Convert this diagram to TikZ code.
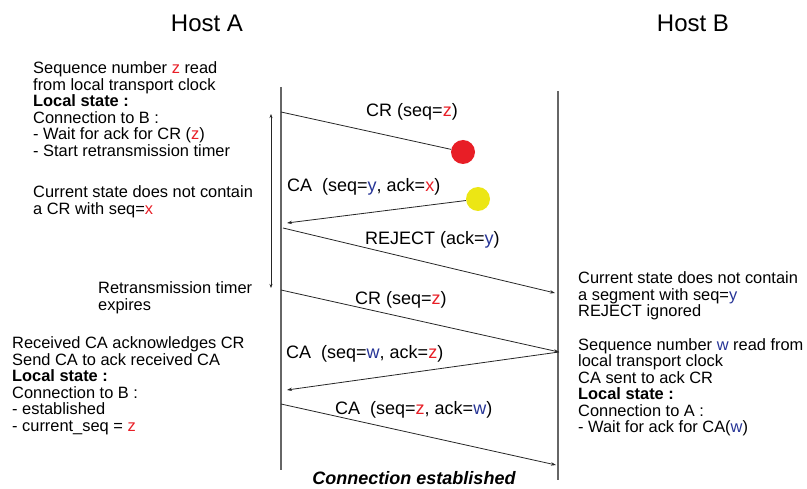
\documentclass[tikz,border=0pt]{standalone}
\usepackage{fontspec}
\setmainfont{Liberation Sans}
\usetikzlibrary{arrows.meta,positioning}
\definecolor{seqred}{RGB}{232,30,38}
\definecolor{seqblue}{RGB}{38,52,150}
\definecolor{dupyellow}{RGB}{236,230,20}
\tikzset{
  hostlbl/.style={font=\fontsize{24}{26}\selectfont, anchor=base, inner sep=0pt},
  timeline/.style={line width=1.3pt, gray!80!black},
  msgln/.style={-{Stealth[length=5pt,width=3.4pt]}, line width=0.8pt, black!85},
  lostln/.style={line width=0.8pt, black!85},
  msglbl/.style={font=\fontsize{18}{20}\selectfont, inner sep=0pt},
  % base of a multi-line note = baseline of its last line
  note/.style={font=\fontsize{16.4}{16.5}\selectfont, align=left, anchor=base west, inner sep=0pt},
  timerln/.style={{Stealth[length=4pt,width=3pt]}-{Stealth[length=4pt,width=3pt]}, line width=0.8pt, black!85},
  segdot/.style={circle, minimum size=24pt, inner sep=0pt},
}
\newcommand{\zr}[1]{\textcolor{seqred}{#1}}
\newcommand{\wb}[1]{\textcolor{seqblue}{#1}}
\begin{document}
\begin{tikzpicture}[x=1pt,y=-1pt]
    \useasboundingbox (0,0) rectangle (807,489);
    % hosts and their time lines
    \node[hostlbl] (hostA) at (207,32) {Host A};
    \node[hostlbl] (hostB) at (693,32) {Host B};
    \coordinate (topA) at (281,87);
    \coordinate (botA) at (281,470);
    \coordinate (topB) at (558,91);
    \coordinate (botB) at (558,480);
    \draw[timeline] (topA) -- (botA);
    \draw[timeline] (topB) -- (botB);
    % end points on the time lines
    \coordinate (a1) at (281,112);
    \coordinate (a2) at (287,223);
    \coordinate (a3) at (283,228);
    \coordinate (a4) at (281,290);
    \coordinate (a5) at (287,390);
    \coordinate (a6) at (281,404);
    \coordinate (b1) at (555,293);
    \coordinate (b2) at (559,352);
    \coordinate (b3) at (556,465);
    \coordinate (t1) at (271,114);
    \coordinate (t2) at (271,288);
    % lost CR and delayed CA
    \node[segdot, fill=seqred] (lost) at (463,152) {};
    \node[segdot, fill=dupyellow] (dup) at (478,199) {};
    \draw[lostln] (a1) -- (lost);
    \draw[msgln] (dup) -- (a2);
    \draw[msgln] (a3) -- (b1);
    \draw[msgln] (a4) -- (b2);
    \draw[msgln] (b2) -- (a5);
    \draw[msgln] (a6) -- (b3);
    % retransmission timer
    \draw[timerln] (t1) -- (t2);
    % segment labels
    \node[msglbl, anchor=base] (crone) at (412,117) {CR (seq=\zr{z})};
    \node[msglbl, anchor=base west] (caone) at (287,192) {CA\ \ (seq=\wb{y}, ack=\zr{x})};
    \node[msglbl, anchor=base west] (rej) at (365,245) {REJECT (ack=\wb{y})};
    \node[msglbl, anchor=base west] (crtwo) at (355,305) {CR (seq=\zr{z})};
    \node[msglbl, anchor=base west] (catwo) at (286,359) {CA\ \ (seq=\wb{w}, ack=\zr{z})};
    \node[msglbl, anchor=base west] (cathree) at (335,414) {CA\ \ (seq=\zr{z}, ack=\wb{w})};
    % state notes, host A
    \node[note] (noteA1) at (33,156.5) {Sequence number \zr{z} read\\from local transport clock\\\textbf{Local state :}\\Connection to B :\\- Wait for ack for CR (\zr{z})\\- Start retransmission timer};
    \node[note] (noteA2) at (33,214.5) {Current state does not contain\\a CR with seq=\zr{x}};
    \node[note] (noteA3) at (98,310.5) {Retransmission timer\\expires};
    \node[note] (noteA4) at (12,431.5) {Received CA acknowledges CR\\Send CA to ack received CA\\\textbf{Local state :}\\Connection to B :\\- established\\- current\_seq = \zr{z}};
    % state notes, host B
    \node[note] (noteB1) at (578,317) {Current state does not contain\\a segment with seq=\wb{y}\\REJECT ignored};
    \node[note] (noteB2) at (578,432.5) {Sequence number \wb{w} read from\\local transport clock\\CA sent to ack CR\\\textbf{Local state :}\\Connection to A :\\- Wait for ack for CA(\wb{w})};
    % result
    \node[msglbl, anchor=base, font=\fontsize{18}{20}\selectfont\bfseries\itshape] (done) at (414,484) {Connection established};
\end{tikzpicture}
\end{document}
